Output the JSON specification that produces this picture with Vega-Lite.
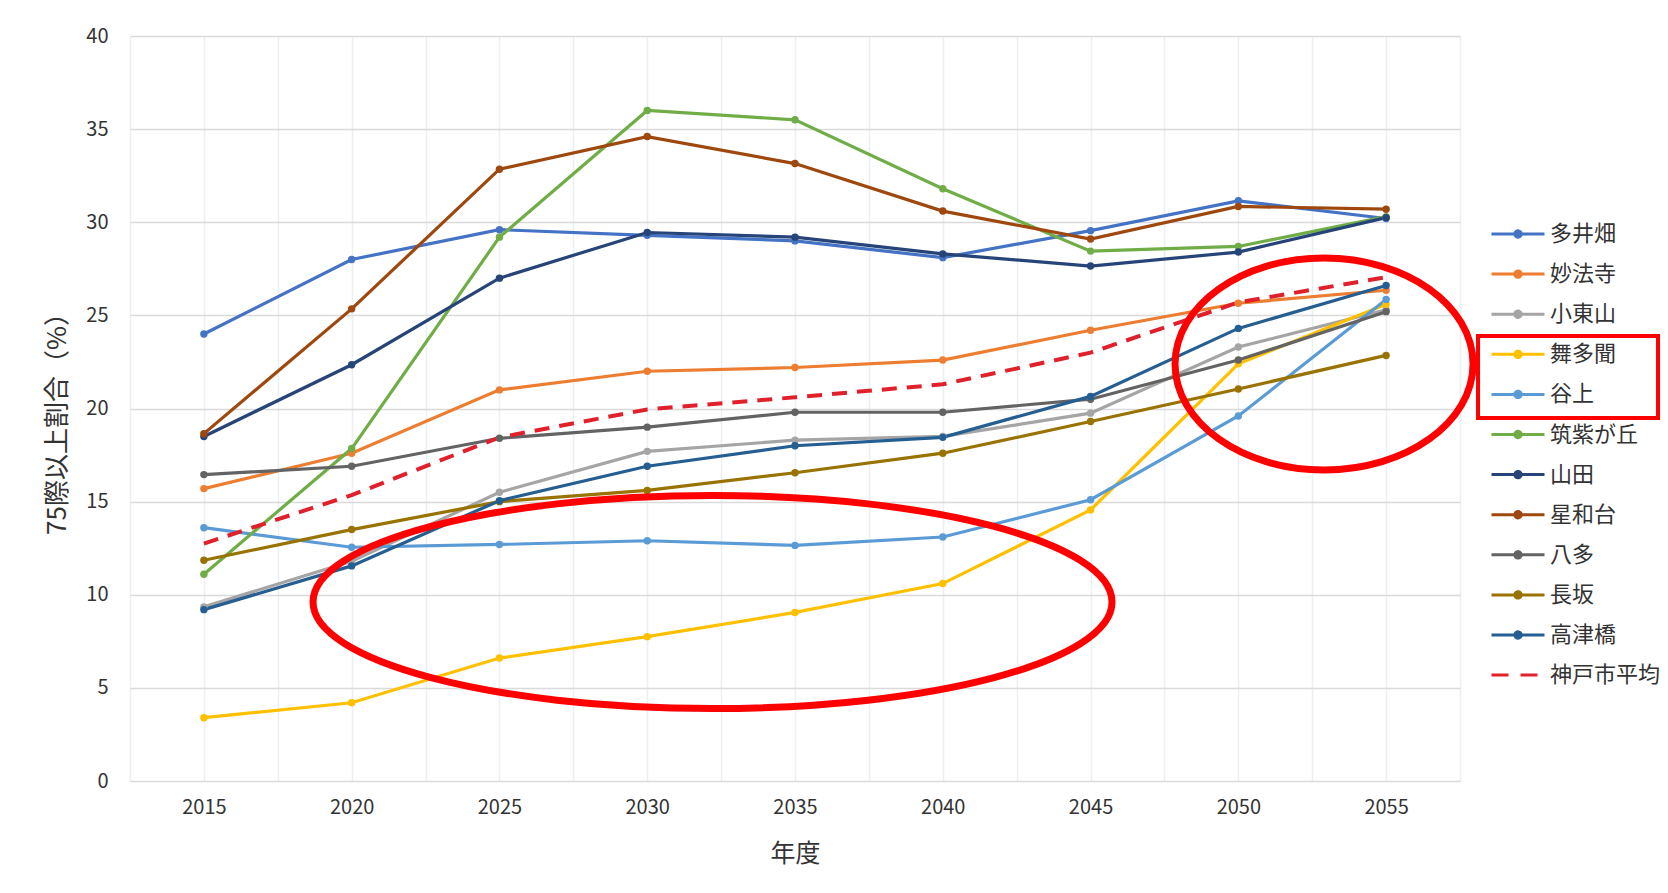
{
  "$schema": "https://vega.github.io/schema/vega-lite/v6.json",
  "width": 1330,
  "height": 745,
  "autosize": {"type": "none"},
  "padding": {"left": 130, "top": 36, "right": 208, "bottom": 112},
  "background": "white",
  "config": {
    "view": {"stroke": null},
    "font": "Noto Sans CJK JP",
    "axis": {"labelFont": "Noto Sans CJK JP", "titleFont": "Noto Sans CJK JP", "labelColor": "#333333", "titleColor": "#333333", "titleFontWeight": "normal"},
    "legend": {"labelFont": "Noto Sans CJK JP", "labelColor": "#333333"}
  },
  "datasets": {
    "main": [
      {"s": "多井畑", "year": 2015, "v": 24.0}, {"s": "多井畑", "year": 2020, "v": 28.0}, {"s": "多井畑", "year": 2025, "v": 29.6}, {"s": "多井畑", "year": 2030, "v": 29.3}, {"s": "多井畑", "year": 2035, "v": 29.0}, {"s": "多井畑", "year": 2040, "v": 28.1}, {"s": "多井畑", "year": 2045, "v": 29.55}, {"s": "多井畑", "year": 2050, "v": 31.15}, {"s": "多井畑", "year": 2055, "v": 30.2},
      {"s": "妙法寺", "year": 2015, "v": 15.7}, {"s": "妙法寺", "year": 2020, "v": 17.6}, {"s": "妙法寺", "year": 2025, "v": 21.0}, {"s": "妙法寺", "year": 2030, "v": 22.0}, {"s": "妙法寺", "year": 2035, "v": 22.2}, {"s": "妙法寺", "year": 2040, "v": 22.6}, {"s": "妙法寺", "year": 2045, "v": 24.2}, {"s": "妙法寺", "year": 2050, "v": 25.65}, {"s": "妙法寺", "year": 2055, "v": 26.35},
      {"s": "小東山", "year": 2015, "v": 9.35}, {"s": "小東山", "year": 2020, "v": 11.8}, {"s": "小東山", "year": 2025, "v": 15.5}, {"s": "小東山", "year": 2030, "v": 17.7}, {"s": "小東山", "year": 2035, "v": 18.3}, {"s": "小東山", "year": 2040, "v": 18.5}, {"s": "小東山", "year": 2045, "v": 19.75}, {"s": "小東山", "year": 2050, "v": 23.3}, {"s": "小東山", "year": 2055, "v": 25.3},
      {"s": "舞多聞", "year": 2015, "v": 3.4}, {"s": "舞多聞", "year": 2020, "v": 4.2}, {"s": "舞多聞", "year": 2025, "v": 6.6}, {"s": "舞多聞", "year": 2030, "v": 7.75}, {"s": "舞多聞", "year": 2035, "v": 9.05}, {"s": "舞多聞", "year": 2040, "v": 10.6}, {"s": "舞多聞", "year": 2045, "v": 14.55}, {"s": "舞多聞", "year": 2050, "v": 22.4}, {"s": "舞多聞", "year": 2055, "v": 25.6},
      {"s": "谷上", "year": 2015, "v": 13.6}, {"s": "谷上", "year": 2020, "v": 12.55}, {"s": "谷上", "year": 2025, "v": 12.7}, {"s": "谷上", "year": 2030, "v": 12.9}, {"s": "谷上", "year": 2035, "v": 12.65}, {"s": "谷上", "year": 2040, "v": 13.1}, {"s": "谷上", "year": 2045, "v": 15.1}, {"s": "谷上", "year": 2050, "v": 19.6}, {"s": "谷上", "year": 2055, "v": 25.85},
      {"s": "筑紫が丘", "year": 2015, "v": 11.1}, {"s": "筑紫が丘", "year": 2020, "v": 17.85}, {"s": "筑紫が丘", "year": 2025, "v": 29.2}, {"s": "筑紫が丘", "year": 2030, "v": 36.0}, {"s": "筑紫が丘", "year": 2035, "v": 35.5}, {"s": "筑紫が丘", "year": 2040, "v": 31.8}, {"s": "筑紫が丘", "year": 2045, "v": 28.45}, {"s": "筑紫が丘", "year": 2050, "v": 28.7}, {"s": "筑紫が丘", "year": 2055, "v": 30.3},
      {"s": "山田", "year": 2015, "v": 18.5}, {"s": "山田", "year": 2020, "v": 22.35}, {"s": "山田", "year": 2025, "v": 27.0}, {"s": "山田", "year": 2030, "v": 29.45}, {"s": "山田", "year": 2035, "v": 29.2}, {"s": "山田", "year": 2040, "v": 28.3}, {"s": "山田", "year": 2045, "v": 27.65}, {"s": "山田", "year": 2050, "v": 28.4}, {"s": "山田", "year": 2055, "v": 30.25},
      {"s": "星和台", "year": 2015, "v": 18.65}, {"s": "星和台", "year": 2020, "v": 25.35}, {"s": "星和台", "year": 2025, "v": 32.85}, {"s": "星和台", "year": 2030, "v": 34.6}, {"s": "星和台", "year": 2035, "v": 33.15}, {"s": "星和台", "year": 2040, "v": 30.6}, {"s": "星和台", "year": 2045, "v": 29.1}, {"s": "星和台", "year": 2050, "v": 30.85}, {"s": "星和台", "year": 2055, "v": 30.7},
      {"s": "八多", "year": 2015, "v": 16.45}, {"s": "八多", "year": 2020, "v": 16.9}, {"s": "八多", "year": 2025, "v": 18.4}, {"s": "八多", "year": 2030, "v": 19.0}, {"s": "八多", "year": 2035, "v": 19.8}, {"s": "八多", "year": 2040, "v": 19.8}, {"s": "八多", "year": 2045, "v": 20.5}, {"s": "八多", "year": 2050, "v": 22.6}, {"s": "八多", "year": 2055, "v": 25.2},
      {"s": "長坂", "year": 2015, "v": 11.85}, {"s": "長坂", "year": 2020, "v": 13.5}, {"s": "長坂", "year": 2025, "v": 15.0}, {"s": "長坂", "year": 2030, "v": 15.6}, {"s": "長坂", "year": 2035, "v": 16.55}, {"s": "長坂", "year": 2040, "v": 17.6}, {"s": "長坂", "year": 2045, "v": 19.3}, {"s": "長坂", "year": 2050, "v": 21.05}, {"s": "長坂", "year": 2055, "v": 22.85},
      {"s": "高津橋", "year": 2015, "v": 9.2}, {"s": "高津橋", "year": 2020, "v": 11.55}, {"s": "高津橋", "year": 2025, "v": 15.05}, {"s": "高津橋", "year": 2030, "v": 16.9}, {"s": "高津橋", "year": 2035, "v": 18.0}, {"s": "高津橋", "year": 2040, "v": 18.45}, {"s": "高津橋", "year": 2045, "v": 20.65}, {"s": "高津橋", "year": 2050, "v": 24.3}, {"s": "高津橋", "year": 2055, "v": 26.6},
      {"s": "神戸市平均", "year": 2015, "v": 12.75}, {"s": "神戸市平均", "year": 2020, "v": 15.35}, {"s": "神戸市平均", "year": 2025, "v": 18.45}, {"s": "神戸市平均", "year": 2030, "v": 19.95}, {"s": "神戸市平均", "year": 2035, "v": 20.6}, {"s": "神戸市平均", "year": 2040, "v": 21.3}, {"s": "神戸市平均", "year": 2045, "v": 23.0}, {"s": "神戸市平均", "year": 2050, "v": 25.7}, {"s": "神戸市平均", "year": 2055, "v": 27.05}
    ],
    "ell1": [{"year": 2032.21, "v": 9.61}],
    "ell2": [{"year": 2052.9, "v": 22.39}],
    "box": [{"year": 2058.11, "year2": 2064.2, "v": 23.89, "v2": 19.49}]
  },
  "layer": [
    {
      "data": {"name": "main"},
      "transform": [{"filter": "datum.s !== '神戸市平均'"}],
      "mark": {"type": "line", "strokeWidth": 3.2},
      "encoding": {
        "x": {
          "field": "year", "type": "quantitative",
          "scale": {"domain": [2012.5, 2057.5], "nice": false, "zero": false},
          "axis": {
            "title": "年度",
            "values": [2012.5, 2015, 2017.5, 2020, 2022.5, 2025, 2027.5, 2030, 2032.5, 2035, 2037.5, 2040, 2042.5, 2045, 2047.5, 2050, 2052.5, 2055, 2057.5],
            "labelExpr": "datum.value % 5 === 0 ? format(datum.value, 'd') : ''",
            "labelFontSize": 20,
            "labelPadding": 16,
            "ticks": false,
            "domain": false,
            "grid": true,
            "gridColor": "#ECEFF1",
            "gridWidth": 1.5,
            "titleFontSize": 25,
            "titleY": 72,
            "titleBaseline": "middle"
          }
        },
        "y": {
          "field": "v", "type": "quantitative",
          "scale": {"domain": [0, 40], "nice": false},
          "axis": {
            "title": "75際以上割合（%）",
            "values": [0, 5, 10, 15, 20, 25, 30, 35, 40],
            "labelFontSize": 20,
            "labelPadding": 22,
            "ticks": false,
            "domain": false,
            "grid": true,
            "gridColor": "#DADADA",
            "gridWidth": 1.5,
            "titleFontSize": 26,
            "titleX": -73,
            "titleY": 381,
            "titleAlign": "center",
            "titleBaseline": "middle",
            "titleAngle": -90
          }
        },
        "color": {
          "field": "s", "type": "nominal",
          "scale": {
            "domain": ["多井畑", "妙法寺", "小東山", "舞多聞", "谷上", "筑紫が丘", "山田", "星和台", "八多", "長坂", "高津橋", "神戸市平均"],
            "range": ["#4472C4", "#ED7D31", "#A5A5A5", "#FFC000", "#5B9BD5", "#70AD47", "#264478", "#9E480E", "#636363", "#997300", "#255E91", "#E0202A"]
          },
          "legend": {
            "title": null,
            "orient": "none",
            "legendX": 1360,
            "legendY": 170,
            "padding": 0,
            "labelFontSize": 22,
            "labelOffset": 4,
            "rowPadding": 1.1,
            "symbolSize": 2809,
            "symbolStrokeWidth": 3,
            "symbolType": "M-1,0L1,0",
            "encode": {
              "symbols": {
                "update": {
                  "shape": {"signal": "datum.value === '神戸市平均' ? 'M-1,0L1,0' : 'M-1,0L1,0M-0.12,0A0.12,0.12,0,1,0,0.12,0A0.12,0.12,0,1,0,-0.12,0'"},
                  "strokeDash": {"signal": "datum.value === '神戸市平均' ? [17, 12] : [1, 0]"}
                }
              }
            }
          }
        }
      }
    },
    {
      "data": {"name": "main"},
      "transform": [{"filter": "datum.s === '神戸市平均'"}],
      "mark": {"type": "line", "strokeWidth": 4, "strokeDash": [15, 10]},
      "encoding": {
        "x": {"field": "year", "type": "quantitative"},
        "y": {"field": "v", "type": "quantitative"},
        "color": {"field": "s", "type": "nominal"}
      }
    },
    {
      "data": {"name": "main"},
      "transform": [{"filter": "datum.s !== '神戸市平均'"}],
      "mark": {"type": "point", "filled": true, "size": 55, "opacity": 1},
      "encoding": {
        "x": {"field": "year", "type": "quantitative"},
        "y": {"field": "v", "type": "quantitative"},
        "color": {"field": "s", "type": "nominal"}
      }
    },
    {
      "data": {"name": "ell1"},
      "mark": {"type": "point", "shape": "M-1,0A1,0.2666,0,1,0,1,0A1,0.2666,0,1,0,-1,0Z", "size": 638401, "filled": false, "stroke": "#FF0000", "strokeWidth": 7, "opacity": 1},
      "encoding": {
        "x": {"field": "year", "type": "quantitative"},
        "y": {"field": "v", "type": "quantitative"}
      }
    },
    {
      "data": {"name": "ell2"},
      "mark": {"type": "point", "shape": "M-1,0A1,0.7114,0,1,0,1,0A1,0.7114,0,1,0,-1,0Z", "size": 88804, "filled": false, "stroke": "#FF0000", "strokeWidth": 7, "opacity": 1},
      "encoding": {
        "x": {"field": "year", "type": "quantitative"},
        "y": {"field": "v", "type": "quantitative"}
      }
    },
    {
      "data": {"name": "box"},
      "mark": {"type": "rect", "fill": null, "fillOpacity": 0, "stroke": "#FF0000", "strokeWidth": 4},
      "encoding": {
        "x": {"field": "year", "type": "quantitative"},
        "x2": {"field": "year2"},
        "y": {"field": "v", "type": "quantitative"},
        "y2": {"field": "v2"}
      }
    }
  ]
}
